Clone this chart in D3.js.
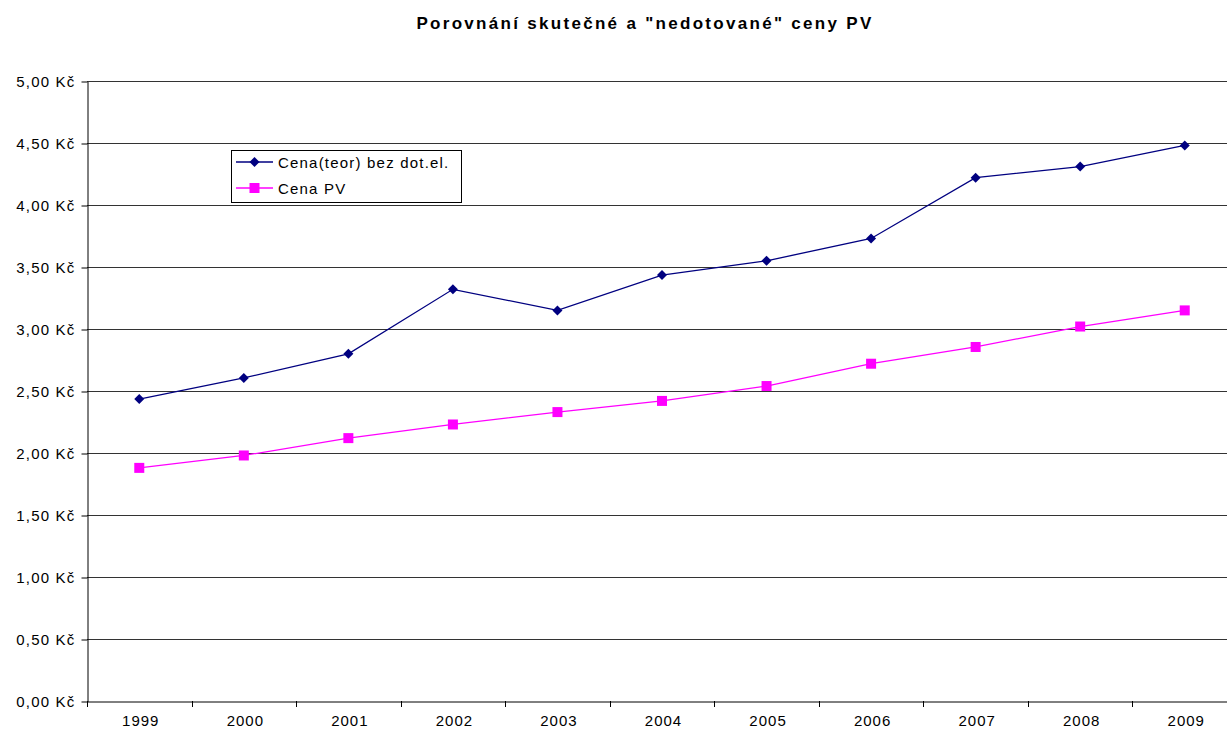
<!DOCTYPE html>
<html><head><meta charset="utf-8">
<script src="https://cdn.jsdelivr.net/npm/d3@7"></script>
<style>body{margin:0;background:#fff}svg{display:block}text{font-family:"Liberation Sans",Arial,sans-serif}</style>
</head><body>
<svg id="c" width="1227" height="736"></svg>
<script>
const years = ["1999","2000","2001","2002","2003","2004","2005","2006","2007","2008","2009"];
const teor = [2.435,2.605,2.80,3.32,3.15,3.435,3.55,3.73,4.22,4.31,4.48];
const pv = [1.88,1.98,2.12,2.23,2.33,2.42,2.54,2.72,2.855,3.02,3.15];
const yTicks = [0,0.5,1,1.5,2,2.5,3,3.5,4,4.5,5];
const seriesNames = ["Cena(teor) bez dot.el.","Cena PV"];

const svg = d3.select("#c");
const L=87, R=1237, T=81, B=701;
const x = d3.scaleBand().domain(years).range([L,R]);
const y = d3.scaleLinear().domain([0,5]).range([B,T]);
const fmt = v => v.toFixed(2).replace(".",",")+" Kč";

svg.append("text").attr("x",645).attr("y",29).attr("text-anchor","middle")
  .attr("font-weight","bold").attr("font-size",17).attr("letter-spacing",2.3).text('Porovnání skutečné a "nedotované" ceny PV');

// grid
svg.append("g").selectAll("line").data(yTicks.filter(d=>d>0)).join("line")
  .attr("x1",L).attr("x2",R).attr("y1",d=>Math.round(y(d))+0.5).attr("y2",d=>Math.round(y(d))+0.5)
  .attr("stroke","#333").attr("stroke-width",1);

// y axis
const ya = svg.append("g").attr("transform",`translate(${L+0.5},0.5)`)
  .call(d3.axisLeft(y).tickValues(yTicks).tickFormat(fmt).tickSize(6).tickSizeOuter(0));
ya.select(".domain").attr("stroke","#000");
ya.selectAll(".tick line").attr("stroke","#000");
ya.selectAll("text").attr("font-size",15).attr("fill","#000").attr("x",-12).attr("letter-spacing",1.2).attr("font-family","Liberation Sans, Arial, sans-serif");

// x axis
const xa = svg.append("g").attr("transform",`translate(0.5,${B+0.5})`)
  .call(d3.axisBottom(x).tickSize(0).tickSizeOuter(0));
xa.select(".domain").attr("stroke","#000");
xa.selectAll("text").attr("font-size",15).attr("fill","#000").attr("dy","1.4em").attr("x",1).attr("letter-spacing",1).attr("font-family","Liberation Sans, Arial, sans-serif");
svg.append("g").selectAll("line").data(years.map(d=>x(d)).concat([R])).join("line")
  .attr("x1",d=>Math.round(d)+0.5).attr("x2",d=>Math.round(d)+0.5).attr("y1",B).attr("y2",B+6)
  .attr("stroke","#000");

const cx = d => x(d)+x.bandwidth()/2;
const line = d3.line().x((d,i)=>cx(years[i])).y(d=>y(d));

svg.append("path").datum(teor).attr("d",line).attr("fill","none").attr("stroke","#000080").attr("stroke-width",1.3);
svg.append("path").datum(pv).attr("d",line).attr("fill","none").attr("stroke","#FF00FF").attr("stroke-width",1.3);

svg.append("g").selectAll("path").data(teor).join("path")
  .attr("transform",(d,i)=>`translate(${cx(years[i])},${y(d)})`)
  .attr("d","M0,-5L5,0L0,5L-5,0Z").attr("fill","#000080");
svg.append("g").selectAll("rect").data(pv).join("rect")
  .attr("x",(d,i)=>cx(years[i])-5).attr("y",d=>y(d)-5).attr("width",10).attr("height",10).attr("fill","#FF00FF");

// legend
const lg = svg.append("g");
lg.append("rect").attr("x",231.5).attr("y",150.5).attr("width",230).attr("height",52).attr("fill","#fff").attr("stroke","#000");
const colors=["#000080","#FF00FF"];
seriesNames.forEach((n,i)=>{
  const yy = 162 + i*26;
  lg.append("line").attr("x1",236).attr("x2",273).attr("y1",yy).attr("y2",yy).attr("stroke",colors[i]).attr("stroke-width",1.3);
  if(i===0) lg.append("path").attr("d","M0,-5L5,0L0,5L-5,0Z").attr("transform",`translate(254.5,${yy})`).attr("fill",colors[i]);
  else lg.append("rect").attr("x",249.5).attr("y",yy-5).attr("width",10).attr("height",10).attr("fill",colors[i]);
  lg.append("text").attr("x",278).attr("y",yy+5.5).attr("font-size",15).attr("letter-spacing",1.2).attr("fill","#000").text(n);
});
</script>
</body></html>
